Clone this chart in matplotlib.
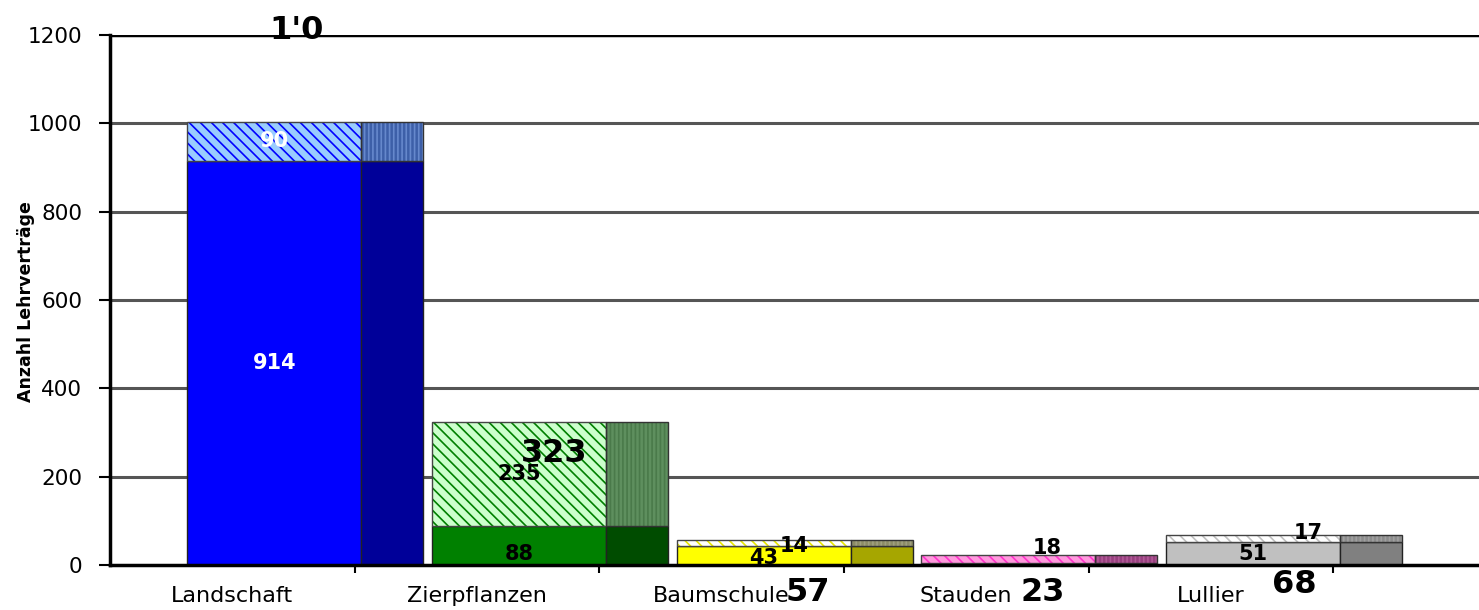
import matplotlib
matplotlib.use("Agg")
import matplotlib.pyplot as plt
import numpy as np

### DATA ###

categories = ["Landschaft", "Zierpflanzen", "Baumschule", "Stauden", "Lullier"]
bottom_vals = [914, 88, 43, 5, 51]
top_vals = [90, 235, 14, 18, 17]
total_labels = ["1'0", "323", "57", "23", "68"]
y_ticks = [0, 200, 400, 600, 800, 1000, 1200]

### STYLE ###

front_bottom = ["#0000FF", "#008000", "#FFFF00", "#FF33CC", "#C0C0C0"]
side_bottom = ["#000099", "#004C00", "#A6A600", "#993366", "#808080"]
front_top = ["#99CCFF", "#CCFFCC", "#FFFFFF", "#FF99DD", "#FFFFFF"]
front_hatch = ["#0000FF", "#008000", "#E6E600", "#FF33CC", "#C0C0C0"]
side_top = ["#3D5FA8", "#5E8F5E", "#8C8C66", "#994080", "#8C8C8C"]
side_hatch = ["#6688CC", "#4A7A4A", "#A0A080", "#B05A96", "#A0A0A0"]

# label offsets in points (dx, dy) relative to segment anchors
bottom_off = [(0, 0), (0, -6), (0, -2), (0, 0), (0, 0)]
top_off = [(0, 0), (0, 0), (22, -2), (28, 8), (40, 4)]

front_l, front_w = -0.184, 0.712
side_w = 0.253

plt.rcParams["hatch.linewidth"] = 1.2

fig = plt.figure(figsize=(14.79, 6.10), dpi=100)
ax = fig.add_axes([110 / 1479, 45 / 610, 1369 / 1479, 530 / 610])

x = np.arange(len(categories))
bottom_vals = np.array(bottom_vals)
top_vals = np.array(top_vals)

for g in y_ticks[1:-1]:
    ax.axhline(g, color="#555555", linewidth=2.2, zorder=1)
ax.axhline(1200, color="black", linewidth=2.5, zorder=1)

for i in range(len(categories)):
    xf = x[i] + front_l
    xs = xf + front_w
    # bottom segment
    ax.bar(xf, bottom_vals[i], width=front_w, align="edge", color=front_bottom[i],
           edgecolor="#222222", linewidth=1, zorder=3)
    ax.bar(xs, bottom_vals[i], width=side_w, align="edge", color=side_bottom[i],
           edgecolor="#222222", linewidth=1, zorder=3)
    # top segment (hatched)
    ax.bar(xf, top_vals[i], bottom=bottom_vals[i], width=front_w, align="edge",
           color=front_top[i], edgecolor=front_hatch[i], hatch="\\\\\\", linewidth=0, zorder=3)
    ax.bar(xf, top_vals[i], bottom=bottom_vals[i], width=front_w, align="edge",
           fill=False, edgecolor="#444444", linewidth=1, zorder=4)
    ax.bar(xs, top_vals[i], bottom=bottom_vals[i], width=side_w, align="edge",
           color=side_top[i], edgecolor=side_hatch[i], hatch="||||", linewidth=0, zorder=3)
    ax.bar(xs, top_vals[i], bottom=bottom_vals[i], width=side_w, align="edge",
           fill=False, edgecolor="#333333", linewidth=1, zorder=4)

    cx = xf + front_w / 2
    lc = "white" if i == 0 else "black"
    ax.annotate(str(bottom_vals[i]) if bottom_vals[i] > 10 else "", (cx, bottom_vals[i] / 2),
                xytext=bottom_off[i], textcoords="offset points", ha="center", va="center",
                fontsize=15, fontweight="bold", color=lc, zorder=6)
    ax.annotate(str(top_vals[i]), (cx, bottom_vals[i] + top_vals[i] / 2),
                xytext=top_off[i], textcoords="offset points", ha="center", va="center",
                fontsize=15, fontweight="bold", color=lc, zorder=6)

# total labels (placed where the original chart put them)
tot_pos = [(0.262, 1211), (1.317, 253), (2.352, -63), (3.313, -63), (4.343, -45)]
for i, (tx, ty) in enumerate(tot_pos):
    ax.annotate(total_labels[i], (tx, ty), ha="center", va="center", fontsize=23,
                fontweight="bold", color="black", annotation_clip=False, zorder=7)

ax.set_xlim(-0.5, (1479 - 233) / 244.5)
ax.set_ylim(0, 1200)

ax.set_yticks(y_ticks)
ax.set_yticklabels([str(v) for v in y_ticks], fontsize=15.5)
ax.tick_params(axis="y", direction="out", length=8, width=1.5, pad=12)

ax.set_xticks(x + 0.5)
ax.set_xticklabels([])
ax.set_xticks(x, minor=True)
ax.set_xticklabels(categories, minor=True, fontsize=16)
ax.tick_params(axis="x", which="major", direction="out", length=6, width=1.5)
ax.tick_params(axis="x", which="minor", length=0, pad=15)

for s in ["top", "right"]:
    ax.spines[s].set_visible(False)
ax.spines["left"].set_linewidth(2.5)
ax.spines["bottom"].set_linewidth(2.5)
ax.spines["bottom"].set_zorder(5)

fig.text(26 / 1479, 1 - 302 / 610, "Anzahl Lehrverträge", rotation=90, ha="center",
         va="center", fontsize=12.5, fontweight="bold",
         family=["Liberation Sans Narrow", "DejaVu Sans"])

fig.savefig("out.png", dpi=100)
